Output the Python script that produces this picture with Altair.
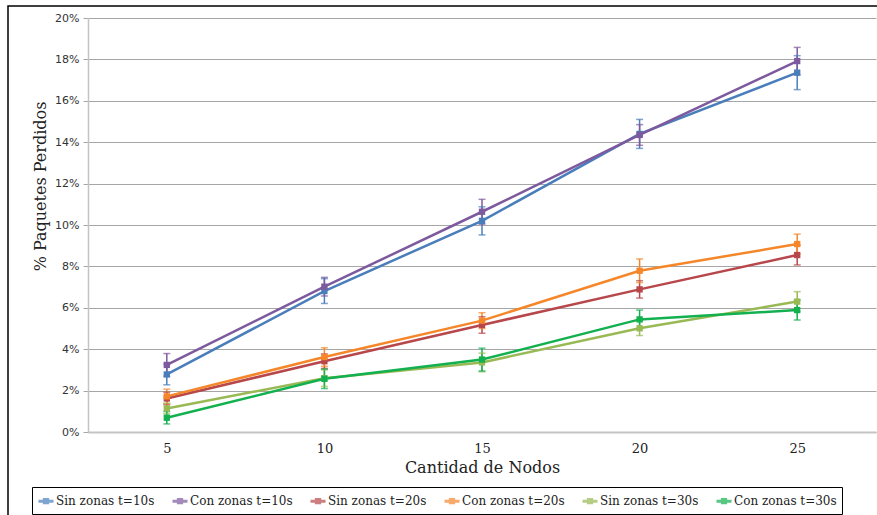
import altair as alt
import pandas as pd

# Node counts on the x axis
nodes = [5, 10, 15, 20, 25]

# Series names, in legend order
series = [
    "Sin zonas t=10s",
    "Con zonas t=10s",
    "Sin zonas t=20s",
    "Con zonas t=20s",
    "Sin zonas t=30s",
    "Con zonas t=30s",
]
colors = ["#4A7EBB", "#7D5A9E", "#B7474A", "#F5872A", "#98B954", "#12B04E"]

# Lost-packet percentages per series
sin10 = [2.78, 6.81, 10.20, 14.40, 17.36]
con10 = [3.24, 7.02, 10.64, 14.35, 17.92]
sin20 = [1.62, 3.42, 5.17, 6.89, 8.55]
con20 = [1.72, 3.62, 5.38, 7.79, 9.08]
sin30 = [1.14, 2.60, 3.36, 5.01, 6.30]
con30 = [0.69, 2.57, 3.50, 5.44, 5.89]

# Error-bar half widths (percentage points)
err_sin10 = [0.50, 0.60, 0.68, 0.70, 0.82]
err_con10 = [0.55, 0.45, 0.60, 0.50, 0.66]
err_sin20 = [0.30, 0.35, 0.40, 0.42, 0.48]
err_con20 = [0.35, 0.45, 0.38, 0.57, 0.48]
err_sin30 = [0.25, 0.40, 0.45, 0.35, 0.48]
err_con30 = [0.30, 0.47, 0.55, 0.45, 0.48]

values = [sin10, con10, sin20, con20, sin30, con30]
errors = [err_sin10, err_con10, err_sin20, err_con20, err_sin30, err_con30]

rows = []
for name, vals, errs in zip(series, values, errors):
    for n, v, e in zip(nodes, vals, errs):
        rows.append({
            "serie": name,
            "nodos": n,
            "valor": v / 100,
            "lo": (v - e) / 100,
            "hi": (v + e) / 100,
        })
df = pd.DataFrame(rows)

x_enc = alt.X(
    "nodos:O",
    scale=alt.Scale(type="point", padding=0.5),
    axis=alt.Axis(
        title="Cantidad de Nodos",
        labelAngle=0,
        ticks=False,
        grid=False,
        labelPadding=10,
        labelFont="DejaVu Serif",
        labelFontSize=13,
        labelColor="#222222",
        domainColor="#C4C4C4",
        domainWidth=2,
        titleFont="DejaVu Serif",
        titleFontSize=16,
        titleFontWeight="normal",
        titleColor="#222222",
        titleX=394,
        titleY=35,
        titleBaseline="middle",
    ),
)

y_scale = alt.Scale(domain=[0, 0.2], nice=False)
y_axis = alt.Axis(
    title="% Paquetes Perdidos",
    format=".0%",
    values=[0, 0.02, 0.04, 0.06, 0.08, 0.10, 0.12, 0.14, 0.16, 0.18, 0.20],
    grid=True,
    gridColor="#A6A6A6",
    gridWidth=1,
    tickColor="#A6A6A6",
    tickSize=5,
    labelPadding=4,
    labelFont="DejaVu Sans",
    labelFontSize=11,
    labelColor="#333333",
    domainColor="#C4C4C4",
    domainWidth=1.5,
    titleFont="DejaVu Serif",
    titleFontSize=16,
    titleFontWeight="normal",
    titleColor="#222222",
    titleAngle=270,
    titleX=-48,
    titleY=168,
    titleAlign="center",
    titleBaseline="middle",
)

legend = alt.Legend(
    title=None,
    orient="none",
    legendX=-56,
    legendY=469,
    direction="horizontal",
    columns=6,
    strokeColor="#000000",
    padding=5,
    labelFont="DejaVu Serif",
    labelFontSize=12,
    labelColor="#222222",
    labelOffset=1,
    columnPadding=11,
    symbolType="M-1,0H1M-0.22,-0.22H0.22V0.22H-0.22Z",
    symbolSize=225,
    symbolStrokeWidth=3,
)

color_enc = alt.Color("serie:N", scale=alt.Scale(domain=series, range=colors),
                      sort=series, legend=legend)

base = alt.Chart(df)

# Outer frame of the figure
frame = alt.Chart(alt.Data(values=[{"k": 1}])).mark_rect(
    filled=False, stroke="#000000", strokeWidth=1.5
).encode(
    x=alt.value(-80), x2=alt.value(900), y=alt.value(-12), y2=alt.value(600)
)

err_rule = base.mark_rule(strokeWidth=1.5).encode(
    x=x_enc,
    y=alt.Y("lo:Q", scale=y_scale, axis=y_axis),
    y2="hi:Q",
    color=color_enc,
)

err_lo = base.mark_tick(orient="horizontal", thickness=1.5, size=7).encode(
    x=x_enc,
    y=alt.Y("lo:Q", scale=y_scale),
    color=color_enc,
)
err_hi = base.mark_tick(orient="horizontal", thickness=1.5, size=7).encode(
    x=x_enc,
    y=alt.Y("hi:Q", scale=y_scale),
    color=color_enc,
)

lines = base.mark_line(strokeWidth=2.5).encode(
    x=x_enc,
    y=alt.Y("valor:Q", scale=y_scale),
    color=color_enc,
)

points = base.mark_point(shape="square", filled=True, size=40, opacity=1).encode(
    x=x_enc,
    y=alt.Y("valor:Q", scale=y_scale),
    color=color_enc,
)

chart = alt.layer(frame, err_rule, err_lo, err_hi, lines, points).properties(
    width=788,
    height=414,
    autosize=alt.AutoSizeParams(type="none"),
    padding={"left": 88, "top": 18, "right": 1, "bottom": 83},
    background="white",
).configure_view(stroke=None).configure_legend(
    labelFont="DejaVu Serif", labelFontSize=12, symbolStrokeWidth=3
)

chart.save("out.html", embed_options={"renderer": "svg", "actions": False})
